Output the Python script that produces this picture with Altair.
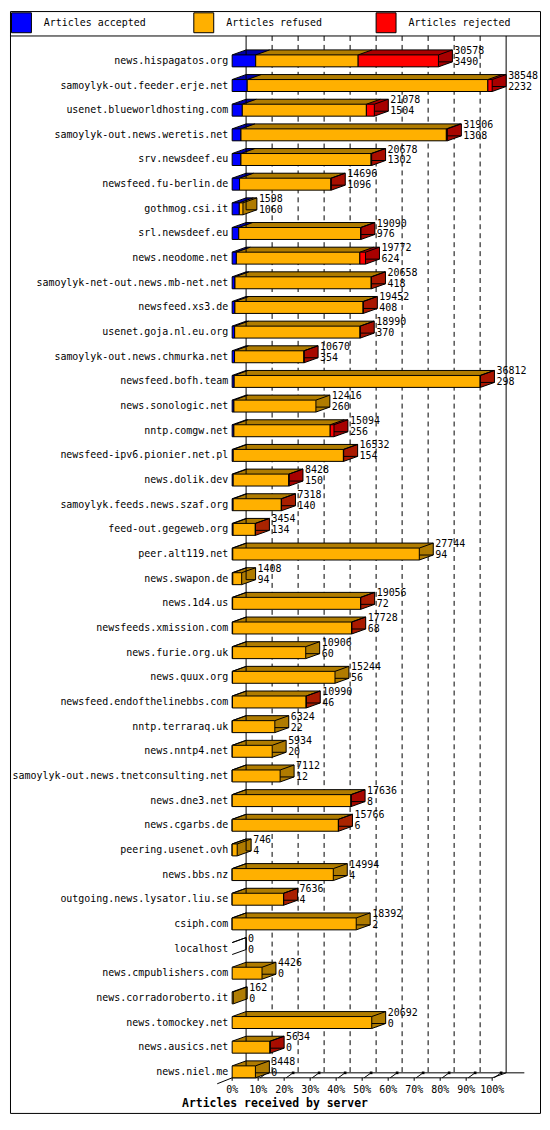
import altair as alt
import pandas as pd

servers = [
    "news.hispagatos.org", "samoylyk-out.feeder.erje.net", "usenet.blueworldhosting.com",
    "samoylyk-out.news.weretis.net", "srv.newsdeef.eu", "newsfeed.fu-berlin.de",
    "gothmog.csi.it", "srl.newsdeef.eu", "news.neodome.net",
    "samoylyk-net-out.news.mb-net.net", "newsfeed.xs3.de", "usenet.goja.nl.eu.org",
    "samoylyk-out.news.chmurka.net", "newsfeed.bofh.team", "news.sonologic.net",
    "nntp.comgw.net", "newsfeed-ipv6.pionier.net.pl", "news.dolik.dev",
    "samoylyk.feeds.news.szaf.org", "feed-out.gegeweb.org", "peer.alt119.net",
    "news.swapon.de", "news.1d4.us", "newsfeeds.xmission.com",
    "news.furie.org.uk", "news.quux.org", "newsfeed.endofthelinebbs.com",
    "nntp.terraraq.uk", "news.nntp4.net", "samoylyk-out.news.tnetconsulting.net",
    "news.dne3.net", "news.cgarbs.de", "peering.usenet.ovh",
    "news.bbs.nz", "outgoing.news.lysator.liu.se", "csiph.com",
    "localhost", "news.cmpublishers.com", "news.corradoroberto.it",
    "news.tomockey.net", "news.ausics.net", "news.niel.me",
]
offered = [
    30578, 38548, 21078, 31906, 20678, 14696, 1598, 19090, 19772, 20658, 19452, 18990,
    10670, 36812, 12416, 15094, 16532, 8428, 7318, 3454, 27744, 1408, 19056, 17728,
    10906, 15244, 10990, 6324, 5934, 7112, 17636, 15766, 746, 14994, 7636, 18392,
    0, 4426, 162, 20692, 5634, 3448,
]
accepted = [
    3490, 2232, 1504, 1308, 1302, 1096, 1060, 976, 624, 418, 408, 370,
    354, 298, 260, 256, 154, 150, 140, 134, 94, 94, 72, 68,
    60, 56, 46, 22, 20, 12, 8, 6, 4, 4, 4, 2,
    0, 0, 0, 0, 0, 0,
]
refused = [
    15188, 35676, 18394, 30448, 19296, 13540, 538, 18064, 18308, 20190, 19004, 18590,
    10286, 36464, 12156, 14278, 16338, 8248, 7148, 3300, 27650, 1314, 18964, 17640,
    10846, 15188, 10924, 6302, 5914, 7100, 17608, 15740, 742, 14990, 7612, 18390,
    0, 4426, 162, 20692, 5614, 3448,
]
rejected = [
    11900, 640, 1180, 150, 80, 60, 0, 50, 840, 50, 40, 30,
    30, 50, 0, 560, 40, 30, 30, 20, 0, 0, 20, 20,
    0, 0, 20, 0, 0, 0, 20, 20, 0, 0, 20, 0,
    0, 0, 0, 0, 20, 0,
]

kinds = ["Articles accepted", "Articles refused", "Articles rejected"]
front_colors = ["#0000ff", "#ffb000", "#ff0000"]
dark_colors = ["#0000a8", "#b07c00", "#a80000"]
axis_pcts = list(range(0, 101, 10))
axis_title = "Articles received by server"

FONT = "DejaVu Sans Mono"
W, H = 532, 1106
X0, PX = 223, 2.61        # pixel of 0% and pixels per percent
Y0, STEP = 50, 24.75      # centre of the first row, row step
BAR = 12
DX, DY = 14, -5           # depth of the fake 3d
FLOOR = Y0 + (len(servers) - 1) * STEP + BAR / 2
DIVIDER = 25


def to_idx(py):
    return (py - Y0) / STEP


x_scale = alt.Scale(domain=[-X0 / PX, (W - X0) / PX], nice=False, zero=False)
y_scale = alt.Scale(domain=[to_idx(0), to_idx(H)], reverse=True, nice=False, zero=False)

maxv = max(offered)
half = BAR / 2 / STEP

seg_rows, cap_rows = [], []
for i, s in enumerate(servers):
    start = 0
    last = None
    for kind, vals, dark in zip(kinds, [accepted, refused, rejected], dark_colors):
        v = vals[i]
        if v > 0:
            seg_rows.append({
                "server": s, "kind": kind, "dark": dark, "value": v,
                "start": start / maxv * 100, "end": (start + v) / maxv * 100,
                "y": i - half, "y2": i + half,
            })
            start += v
            last = dark
    if last:
        cap_rows.append({"end": start / maxv * 100, "dark": last,
                         "y": i - half, "y2": i + half})
segs = pd.DataFrame(seg_rows)
caps = pd.DataFrame(cap_rows)

rows = pd.DataFrame({
    "server": servers,
    "idx": range(len(servers)),
    "offered": offered,
    "accepted": accepted,
    "pct": [v / maxv * 100 for v in offered],
})
rows["zero"] = 0.0
rows["y"] = rows["idx"] - half
rows["y2"] = rows["idx"] + half

grid = pd.DataFrame({"pct": axis_pcts, "label": [f"{p}%" for p in axis_pcts]})
one = pd.DataFrame({"title": [axis_title]})


def xq(field):
    return alt.X(field, type="quantitative", scale=x_scale, axis=None)


def xd(value):
    return alt.X(datum=value, type="quantitative", scale=x_scale, axis=None)


def yq(field):
    return alt.Y(field, type="quantitative", scale=y_scale, axis=None)


wall_y = alt.Y(datum=to_idx(DIVIDER), type="quantitative", scale=y_scale, axis=None)
wall_y2 = alt.Y2(datum=to_idx(FLOOR + DY))
floor_y = alt.Y(datum=to_idx(FLOOR), type="quantitative", scale=y_scale, axis=None)
floor_y2 = alt.Y2(datum=to_idx(FLOOR))

divider = alt.Chart(one).mark_rule(color="black").encode(y=wall_y)

walls_dashed = alt.Chart(grid[(grid.pct > 0) & (grid.pct < 100)]).mark_rule(
    color="black", strokeDash=[5, 4], xOffset=DX
).encode(x=xq("pct"), y=wall_y, y2=wall_y2)

walls_solid = alt.Chart(grid[(grid.pct == 0) | (grid.pct == 100)]).mark_rule(
    color="black", xOffset=DX
).encode(x=xq("pct"), y=wall_y, y2=wall_y2)

floor_back = alt.Chart(one).mark_rule(
    color="black", xOffset=DX, x2Offset=DX, yOffset=DY
).encode(x=xd(0), x2=alt.X2(datum=107), y=floor_y)

floor_front = alt.Chart(one).mark_rule(color="black").encode(
    x=xd(0), x2=alt.X2(datum=100), y=floor_y)

floor_left = alt.Chart(one).mark_rule(color="black", x2Offset=-15, y2Offset=6).encode(
    x=xd(0), x2=alt.X2(datum=0), y=floor_y, y2=floor_y2)

floor_right = alt.Chart(one).mark_rule(color="black", x2Offset=DX, y2Offset=DY).encode(
    x=xd(100), x2=alt.X2(datum=100), y=floor_y, y2=floor_y2)

ticks_down = alt.Chart(grid).mark_rule(color="black", y2Offset=3).encode(
    x=xq("pct"), x2="pct:Q", y=floor_y, y2=floor_y2)

ticks = alt.Chart(grid[grid.pct > 0]).mark_rule(
    color="black", xOffset=2, x2Offset=9, y2Offset=-5
).encode(x=xq("pct"), x2="pct:Q", y=floor_y, y2=floor_y2)

tick_dots = alt.Chart(grid[grid.pct > 0]).mark_square(
    color="black", size=7, opacity=1, xOffset=9, yOffset=-5
).encode(x=xq("pct"), y=floor_y)

tick_labels = alt.Chart(grid).mark_text(
    align="center", baseline="middle", dy=12, font=FONT, fontSize=10, color="black"
).encode(x=xq("pct"), y=floor_y, text="label:N")

title = alt.Chart(one).mark_text(
    align="center", baseline="middle", dy=26, font=FONT, fontSize=11.5,
    fontWeight="bold", color="black"
).encode(x=xd((W / 2 - X0) / PX), y=floor_y, text="title:N")

layers = [divider, walls_dashed, walls_solid, floor_back, floor_front,
          floor_left, floor_right, ticks_down, ticks, tick_dots, tick_labels, title]

# fake depth: the bars repeated in darker colours, stepping back and up
steps = 14
cap_w = DX / steps
for k in range(steps, 0, -1):
    ox, oy = DX * k / steps, DY * k / steps
    layers.append(
        alt.Chart(segs).mark_bar(
            xOffset=ox, x2Offset=ox, yOffset=oy, y2Offset=oy, strokeWidth=0,
        ).encode(
            x=xq("start"), x2="end:Q", y=yq("y"), y2="y2:Q",
            color=alt.Color("dark:N", scale=None),
        )
    )
    layers.append(
        alt.Chart(caps).mark_bar(
            xOffset=ox - cap_w, x2Offset=ox, yOffset=oy, y2Offset=oy, strokeWidth=0,
        ).encode(
            x=xq("end"), x2="end:Q", y=yq("y"), y2="y2:Q",
            color=alt.Color("dark:N", scale=None),
        )
    )

# box edges
back_edge = alt.Chart(rows).mark_bar(
    xOffset=DX, x2Offset=DX, yOffset=DY, y2Offset=DY,
    fillOpacity=0, stroke="black", strokeWidth=1,
).encode(x=xq("zero"), x2="pct:Q", y=yq("y"), y2="y2:Q")

edge_tl = alt.Chart(rows).mark_rule(color="black", x2Offset=DX, y2Offset=DY).encode(
    x=xq("zero"), x2="zero:Q", y=yq("y"), y2="y:Q")
edge_tr = alt.Chart(rows).mark_rule(color="black", x2Offset=DX, y2Offset=DY).encode(
    x=xq("pct"), x2="pct:Q", y=yq("y"), y2="y:Q")
edge_br = alt.Chart(rows).mark_rule(color="black", x2Offset=DX, y2Offset=DY).encode(
    x=xq("pct"), x2="pct:Q", y=yq("y2"), y2="y2:Q")
edge_seg = alt.Chart(segs[segs.start > 0]).mark_rule(
    color="black", x2Offset=DX, y2Offset=DY
).encode(x=xq("start"), x2="start:Q", y=yq("y"), y2="y:Q")

layers += [back_edge, edge_seg, edge_tl, edge_tr, edge_br]

front = alt.Chart(segs).mark_bar(stroke="black", strokeWidth=1).encode(
    x=xq("start"), x2="end:Q",
    y=yq("y"), y2="y2:Q",
    color=alt.Color("kind:N", scale=alt.Scale(domain=kinds, range=front_colors),
                    legend=alt.Legend(
                        title=None, orient="none", legendX=1, legendY=1,
                        direction="horizontal", columns=3, gridAlign="all",
                        symbolType="square", symbolSize=400, symbolOpacity=1,
                        symbolStrokeColor="black", symbolStrokeWidth=1,
                        labelFont=FONT, labelFontSize=10, labelColor="black",
                        labelOffset=12, columnPadding=45, padding=0,
                    )),
)
layers.append(front)

names = alt.Chart(rows).mark_text(
    align="right", baseline="middle", dx=-4, font=FONT, fontSize=10, color="black"
).encode(x=xq("zero"), y=yq("idx"), text="server:N")

total_txt = alt.Chart(rows).mark_text(
    align="left", baseline="middle", dx=16, dy=-10, font=FONT, fontSize=10, color="black"
).encode(x=xq("pct"), y=yq("idx"), text="offered:Q")

acc_txt = alt.Chart(rows).mark_text(
    align="left", baseline="middle", dx=16, dy=1, font=FONT, fontSize=10, color="black"
).encode(x=xq("pct"), y=yq("idx"), text="accepted:Q")

layers += [names, total_txt, acc_txt]

chart = (
    alt.layer(*layers)
    .properties(width=W, height=H, padding=1)
    .configure_view(stroke="black", strokeWidth=1)
)

chart.save("out.html", embed_options={"renderer": "svg", "actions": False})
